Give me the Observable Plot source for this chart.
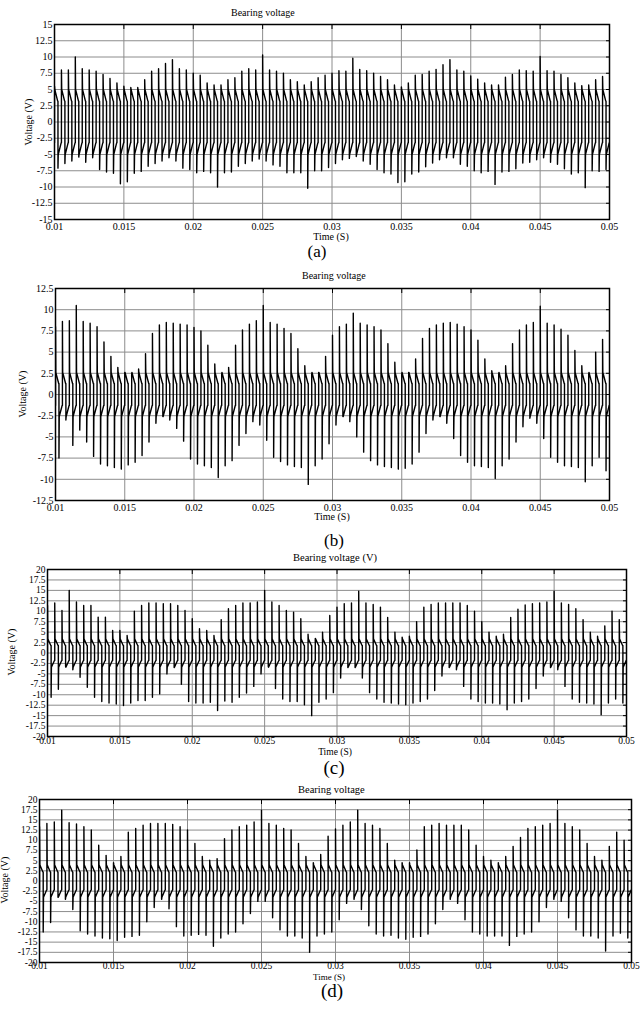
<!DOCTYPE html>
<html><head><meta charset="utf-8">
<script src="https://cdn.jsdelivr.net/npm/d3@7"></script>
<script src="https://cdn.jsdelivr.net/npm/@observablehq/plot@0.6"></script>
<style>
body{margin:0;background:#fff;}
#page{position:relative;width:641px;height:1010px;overflow:hidden;font-family:"Liberation Serif","Times New Roman",serif;color:#000;background:#fff;}
.abs{position:absolute;white-space:nowrap;line-height:1;}
svg{position:absolute;left:0;overflow:visible;}
</style></head><body><div id="page"></div>
<script>
// ---- tick labels ----
const timeTicks = [0.01, 0.015, 0.02, 0.025, 0.03, 0.035, 0.04, 0.045, 0.05];
const voltTicksA = [-15, -12.5, -10, -7.5, -5, -2.5, 0, 2.5, 5, 7.5, 10, 12.5, 15];
const voltTicksB = [-12.5, -10, -7.5, -5, -2.5, 0, 2.5, 5, 7.5, 10, 12.5];
const voltTicksC = [-20, -17.5, -15, -12.5, -10, -7.5, -5, -2.5, 0, 2.5, 5, 7.5, 10, 12.5, 15, 17.5, 20];
const voltTicksD = [-20, -17.5, -15, -12.5, -10, -7.5, -5, -2.5, 0, 2.5, 5, 7.5, 10, 12.5, 15, 17.5, 20];

// ---- per switching period (0.5 ms) positive spike peaks and negative spike troughs (V) ----
const peaksA = [5.5,8.0,8.0,10.0,8.2,8.0,7.8,7.3,6.7,6.0, 5.5,5.3,5.3,6.5,7.8,8.2,9.0,9.6,8.2,8.0,
  7.5,7.2,6.0,5.7,5.7,6.5,6.8,7.8,8.2,8.0, 10.3,8.0,7.8,7.5,6.5,6.2,5.7,6.2,6.8,7.2,
  7.5,7.9,7.8,9.8,8.1,7.9,7.5,7.0,6.5,5.7, 5.4,6.0,7.2,7.3,7.8,8.1,8.8,9.6,8.0,7.8,
  7.1,6.6,6.0,5.7,5.7,6.9,7.3,8.0,7.9,7.8, 10.1,7.9,7.8,7.3,6.8,6.0,5.6,5.7,6.5,7.0];
const troughsA = [-7.1,-6.4,-6.0,-5.4,-6.2,-5.5,-7.3,-7.7,-7.9,-9.5, -9.2,-7.9,-7.6,-6.8,-6.4,-6.0,-5.5,-6.0,-7.1,-7.3,
  -7.8,-7.6,-7.8,-10.0,-7.8,-7.7,-6.8,-6.4,-6.0,-5.7, -6.0,-6.6,-6.8,-7.8,-7.8,-7.8,-10.2,-7.5,-7.5,-7.0,
  -6.4,-5.8,-5.6,-5.3,-6.0,-6.5,-7.3,-7.8,-8.0,-9.3, -9.2,-8.0,-7.7,-6.9,-6.3,-5.8,-5.5,-5.5,-6.5,-6.8,
  -7.5,-7.8,-7.6,-9.6,-7.7,-7.6,-7.2,-6.3,-6.2,-5.8, -5.5,-6.2,-6.5,-7.2,-8.0,-7.8,-10.1,-7.5,-7.6,-7.3];

const peaksB = [8.0,8.6,8.7,10.5,8.6,8.4,8.0,6.2,4.5,3.2, 2.6,2.4,3.0,4.8,7.2,8.2,8.5,8.4,8.3,8.2,
  7.9,7.5,5.8,3.6,2.4,3.2,5.8,7.6,8.3,8.7, 10.5,8.5,8.3,7.8,7.2,5.4,3.4,2.4,2.6,4.5,
  7.0,8.0,8.3,9.6,8.4,8.2,8.0,7.6,6.0,3.8, 2.4,2.6,4.2,6.6,7.8,8.2,8.4,8.5,8.3,8.0,
  7.6,6.4,4.2,2.8,2.4,3.4,6.0,7.6,8.2,8.5, 10.4,8.4,8.2,7.7,7.0,5.2,3.4,2.4,5.0,6.5];
const troughsB = [-7.5,-3.0,-6.0,-4.2,-5.6,-7.3,-8.2,-8.4,-8.6,-8.8, -8.3,-8.0,-7.2,-5.6,-3.4,-2.6,-3.0,-4.0,-5.5,-7.6,
  -8.2,-8.4,-8.6,-9.8,-8.4,-7.8,-6.0,-4.6,-3.2,-3.6, -5.4,-7.4,-7.9,-8.3,-8.5,-8.6,-10.6,-8.4,-7.6,-5.8,
  -3.6,-2.6,-3.2,-5.0,-6.8,-7.8,-8.3,-8.5,-8.6,-8.8, -8.7,-8.2,-6.8,-4.6,-3.0,-2.6,-3.4,-5.2,-7.2,-8.0,
  -8.4,-8.5,-8.6,-9.9,-8.4,-7.6,-5.6,-3.8,-2.8,-3.4, -5.2,-7.4,-8.0,-8.4,-8.5,-8.6,-10.3,-8.4,-7.4,-9.0];

const peaksC = [11.4,12.0,10.2,15.0,12.2,11.4,11.4,8.6,8.6,5.4, 5.4,4.2,10.0,11.4,12.0,12.0,11.8,11.8,11.4,10.2,
  8.2,5.8,5.4,4.2,8.0,10.6,11.4,12.0,12.0,12.2, 15.0,12.2,11.4,10.2,9.8,8.2,4.5,3.5,5.0,9.0,
  11.0,11.8,12.0,14.8,12.0,11.6,11.0,8.5,5.0,3.8, 4.0,7.5,11.0,11.6,12.0,12.0,12.0,12.0,11.4,10.0,
  7.5,5.0,4.0,4.5,8.5,10.5,11.5,11.8,12.0,12.2, 14.8,12.0,11.6,10.6,8.0,5.0,4.0,6.5,10.0,8.0];
const troughsC = [-10.6,-8.7,-3.2,-4.0,-5.8,-8.2,-10.6,-11.6,-12.0,-12.2, -12.6,-12.0,-11.4,-11.4,-10.6,-9.8,-5.0,-3.5,-7.5,-11.6,
  -12.0,-12.0,-11.8,-13.8,-11.5,-11.8,-10.6,-9.6,-8.0,-5.0, -3.2,-8.5,-11.0,-11.6,-11.6,-12.4,-15.0,-11.8,-11.0,-9.5,
  -6.0,-3.5,-3.5,-6.0,-9.5,-11.0,-11.8,-12.0,-12.2,-12.4, -12.0,-11.6,-11.0,-9.0,-5.5,-3.5,-4.0,-8.0,-11.0,-11.6,
  -12.0,-12.0,-12.2,-13.6,-12.0,-11.6,-11.0,-8.5,-5.5,-3.5, -4.0,-8.0,-11.0,-11.8,-12.0,-12.2,-14.8,-12.0,-11.0,-12.0];

const peaksD = [13.3,14.1,14.5,17.4,14.3,14.0,13.3,12.5,8.8,6.3, 4.5,6.0,12.0,12.9,13.7,14.1,14.1,14.1,13.9,13.3,
  12.5,9.2,6.0,5.1,5.5,10.4,12.5,13.3,13.7,14.5, 17.4,14.1,13.7,12.9,12.5,9.2,6.0,4.5,6.5,11.0,
  12.8,13.7,14.5,17.4,14.1,13.7,12.9,9.2,5.1,4.5, 4.5,7.6,13.3,13.7,14.1,13.7,13.7,13.7,12.5,8.8,
  6.0,5.1,4.5,6.0,8.5,10.7,12.9,13.3,13.7,14.1, 17.3,14.1,13.3,12.5,9.2,6.0,5.1,8.5,12.0,10.0];
const troughsD = [-12.5,-10.2,-4.0,-4.5,-7.0,-12.2,-13.0,-13.5,-14.0,-14.2, -14.6,-13.8,-13.6,-13.3,-10.0,-6.5,-4.5,-6.8,-11.2,-13.5,
  -13.3,-13.1,-13.3,-16.0,-14.0,-13.0,-12.5,-10.5,-8.0,-5.0, -5.0,-9.0,-12.0,-13.5,-13.5,-14.0,-17.5,-13.5,-13.0,-12.5,
  -9.5,-5.5,-4.5,-7.0,-11.0,-13.0,-13.5,-13.3,-14.0,-14.3, -13.8,-13.6,-13.0,-10.5,-7.0,-4.5,-5.5,-9.5,-12.5,-13.0,
  -13.5,-13.5,-13.5,-15.8,-13.6,-13.0,-12.5,-10.0,-6.5,-4.5, -5.0,-9.0,-12.0,-13.5,-13.5,-14.0,-17.2,-13.5,-12.8,-14.0];

// levels after each spike: [settle after up-spike, decayed upper, settle after down-spike, decayed lower]
const levelsA = [5.0, 3.2, -5.0, -3.2];
const levelsB = [2.6, 1.3, -2.6, -1.3];
const levelsC = [3.4, 1.8, -3.4, -1.8];
const levelsD = [4.0, 2.2, -4.0, -2.2];

const titles = ["Bearing voltage", "Bearing voltage", "Bearing voltage (V)", "Bearing voltage"];
const captions = ["(a)", "(b)", "(c)", "(d)"];
const xLabel = "Time (S)";
const yLabel = "Voltage (V)";

// ---- build a waveform from the per-period readings (spike, settle, decay) ----
const tStart = 0.01, period = 0.0005;
const shape = [
  [0.00,"lo2"],[0.00,"peak"],[0.04,"hi1"],[0.46,"hi2"],
  [0.50,"hi2"],[0.50,"trough"],[0.54,"lo1"],[0.96,"lo2"]
];
function wave(peaks, troughs, levels) {
  const [hi1, hi2, lo1, lo2] = levels;
  const pts = [];
  peaks.forEach((p, k) => {
    const t0 = tStart + k * period;
    const val = {peak: p, trough: troughs[k], hi1, hi2, lo1, lo2};
    for (const [f, key] of shape) pts.push({t: t0 + f * period, v: val[key]});
  });
  pts.push({t: tStart + peaks.length * period, v: lo2});
  return pts;
}

const layout = [
  {frame:[54,609,24,219], xPad:3, tickFont:10, yLab:[29,121.5], xLab:[331,241], xLabSize:10, titleX:231, titleBase:17, titleSize:10, capX:317, capBase:258, capSize:17},
  {frame:[55,609,288,500], xPad:3, tickFont:10, yLab:[22.5,394], xLab:[332,521], xLabSize:10, titleX:302, titleBase:280, titleSize:10, capX:334, capBase:547, capSize:17},
  {frame:[47,626,569,736], xPad:1, tickFont:9.5, yLab:[12,652], xLab:[335,756], xLabSize:9.5, titleX:293, titleBase:562, titleSize:10.5, capX:334, capBase:775, capSize:19},
  {frame:[39,631,799,962], xPad:0, tickFont:9.5, yLab:[5,880], xLab:[329,981], xLabSize:9, titleX:298, titleBase:794, titleSize:10.5, capX:332, capBase:998, capSize:19}
];
const series = [
  [peaksA, troughsA, levelsA, voltTicksA],
  [peaksB, troughsB, levelsB, voltTicksB],
  [peaksC, troughsC, levelsC, voltTicksC],
  [peaksD, troughsD, levelsD, voltTicksD]
];

const page = document.getElementById("page");
function addText(txt, x, base, size, mode) {
  const d = document.createElement("div");
  d.className = "abs";
  d.textContent = txt;
  d.style.fontSize = size + "px";
  if (mode === "rot") {
    d.style.left = x + "px"; d.style.top = base + "px";
    d.style.transform = "translate(-50%,-50%) rotate(-90deg)";
  } else {
    d.style.top = (base - size * 0.891) + "px";
    d.style.left = x + "px";
    if (mode === "middle") d.style.transform = "translateX(-50%)";
  }
  page.appendChild(d);
}

series.forEach(([peaks, troughs, levels, yTicks], i) => {
  const L = layout[i];
  const [fl, fr, ft, fb] = L.frame;
  const mt = 6, mb = 20;
  const chart = Plot.plot({
    width: 641,
    height: fb - ft + mt + mb,
    marginLeft: fl, marginRight: 641 - fr, marginTop: mt, marginBottom: mb,
    x: {domain: [timeTicks[0], timeTicks[timeTicks.length - 1]]},
    y: {domain: [yTicks[0], yTicks[yTicks.length - 1]]},
    style: {fontFamily: '"Liberation Serif","Times New Roman",serif', fontSize: L.tickFont + "px", background: "transparent", color: "#000"},
    marks: [
      Plot.gridY(yTicks, {stroke: "#8c8c8c", strokeOpacity: 1, strokeWidth: 1}),
      Plot.gridX(timeTicks, {stroke: "#8c8c8c", strokeOpacity: 1, strokeWidth: 1}),
      Plot.line(wave(peaks, troughs, levels), {x: "t", y: "v", stroke: "#000", strokeWidth: 1.4, clip: true}),
      Plot.frame({stroke: "#000", strokeWidth: 1.5}),
      Plot.axisX(timeTicks, {anchor: "bottom", tickSize: 0, tickPadding: L.xPad, tickFormat: d => String(d), label: null}),
      Plot.axisY(yTicks, {anchor: "left", tickSize: 0, tickPadding: 2, tickFormat: d => String(d), label: null}),
      Plot.axisX(timeTicks, {anchor: "top", tickSize: -4, tickFormat: () => "", label: null, stroke: "#000"}),
      Plot.axisY(yTicks, {anchor: "right", tickSize: -4, tickFormat: () => "", label: null, stroke: "#000"})
    ]
  });
  chart.style.top = (ft - mt) + "px";
  page.appendChild(chart);
  addText(titles[i], L.titleX, L.titleBase, L.titleSize, "start");
  addText(xLabel, L.xLab[0], L.xLab[1], L.xLabSize, "middle");
  addText(yLabel, L.yLab[0], L.yLab[1], 10, "rot");
  addText(captions[i], L.capX, L.capBase, L.capSize, "middle");
});
</script>
</body></html>
